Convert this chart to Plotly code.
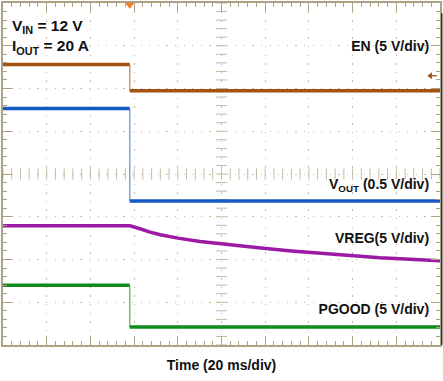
import plotly.graph_objects as go

# Time axis in ms (20 ms/div, 10 div); vertical position in screen divisions (0..8)
t_start, t_edge, t_end = 0, 58, 200
en_levels = [6.56, 5.95]       # before / after edge
vout_levels = [5.53, 3.37]
pgood_levels = [1.40, 0.42]
vreg_t = [0, 58.1, 62.7, 67.3, 72, 80, 90.2, 104, 118, 132, 150, 172.5, 200]
vreg_div = [2.79, 2.79, 2.72, 2.64, 2.58, 2.50, 2.42, 2.34, 2.27, 2.20, 2.12, 2.04, 1.97]
trigger_t = [58]
en_marker_div = 6.30

cond_text = ["V<sub>IN</sub> = 12 V", "I<sub>OUT</sub> = 20 A"]
cond_t = [4.1, 4.1]
cond_div = [7.44, 6.96]
chan_text = ["EN (5 V/div)", "V<sub>OUT</sub> (0.5 V/div)", "VREG(5 V/div)", "PGOOD (5 V/div)"]
chan_t = [195.0, 195.0, 195.0, 195.0]
chan_div = [6.97, 3.72, 2.47, 0.81]

W, H = 443, 381
L, R, T, B = 3, 3, 1, 36
GRID = "#c2bb9f"
FRAME = "#aaa283"
FONT = "Liberation Sans, Arial, sans-serif"

fig = go.Figure()

# center cross minor ticks
cx = [i * 4 for i in range(51)]
fig.add_trace(go.Scatter(x=cx, y=[4] * len(cx), mode="markers",
                         marker=dict(symbol="line-ns", size=8, line=dict(color=GRID, width=1)),
                         hoverinfo="skip", showlegend=False))
cy = [i * 0.2 for i in range(41)]
fig.add_trace(go.Scatter(x=[100] * len(cy), y=cy, mode="markers",
                         marker=dict(symbol="line-ew", size=8, line=dict(color=GRID, width=1)),
                         hoverinfo="skip", showlegend=False))


def add_step(levels, color, edge_color):
    hi, lo = levels
    fig.add_trace(go.Scatter(x=[t_edge, t_edge], y=[hi, lo], mode="lines",
                             line=dict(color=edge_color, width=1.5),
                             hoverinfo="skip", showlegend=False))
    fig.add_trace(go.Scatter(x=[t_start, t_edge, None, t_edge, t_end], y=[hi, hi, None, lo, lo],
                             mode="lines", line=dict(color=color, width=3.5),
                             hoverinfo="skip", showlegend=False))


add_step(en_levels, "#a2530f", "#c89a70")
add_step(vout_levels, "#1559c4", "#7fa3dc")
fig.add_trace(go.Scatter(x=vreg_t, y=vreg_div, mode="lines", line=dict(color="#9c1aa6", width=3.5),
                         hoverinfo="skip", showlegend=False))
add_step(pgood_levels, "#118a1c", "#6cbf72")

# trigger marker
fig.add_trace(go.Scatter(x=trigger_t, y=[7.97], mode="markers", cliponaxis=False,
                         marker=dict(symbol="triangle-down", size=9, color="#f57c22"),
                         hoverinfo="skip", showlegend=False))

# EN level marker (arrow)
fig.add_trace(go.Scatter(x=[195.2, 198.5], y=[en_marker_div, en_marker_div], mode="lines",
                         line=dict(color="#a2530f", width=1.3), hoverinfo="skip", showlegend=False))
fig.add_trace(go.Scatter(x=[195.6], y=[en_marker_div], mode="markers",
                         marker=dict(symbol="triangle-left", size=6, color="#a2530f"),
                         hoverinfo="skip", showlegend=False))

# labels
fig.add_trace(go.Scatter(x=cond_t, y=cond_div, text=cond_text, mode="text",
                         textposition="middle right", cliponaxis=False,
                         textfont=dict(family=FONT, size=15.5, color="#111", weight="bold"),
                         hoverinfo="skip", showlegend=False))
fig.add_trace(go.Scatter(x=chan_t, y=chan_div, text=chan_text, mode="text",
                         textposition="middle left", cliponaxis=False,
                         textfont=dict(family=FONT, size=14, color="#111", weight="bold"),
                         hoverinfo="skip", showlegend=False))

fig.update_xaxes(range=[0, 200], dtick=20, tick0=0, showticklabels=False,
                 ticks="inside", ticklen=9, tickcolor=FRAME, tickwidth=1,
                 minor=dict(dtick=4, ticks="inside", ticklen=4, tickcolor=FRAME, showgrid=False),
                 showgrid=True, gridcolor=GRID, gridwidth=1.3, griddash="1.3px,7.3px",
                 showline=True, linecolor=FRAME, linewidth=2, mirror="ticks", zeroline=False,
                 title=dict(text="Time (20 ms/div)",
                            font=dict(family=FONT, size=14, color="#111", weight="bold"),
                            standoff=14))
fig.update_yaxes(range=[0, 8], dtick=1, tick0=0, showticklabels=False,
                 ticks="inside", ticklen=9, tickcolor=FRAME, tickwidth=1,
                 minor=dict(dtick=0.2, ticks="inside", ticklen=4, tickcolor=FRAME, showgrid=False),
                 showgrid=True, gridcolor=GRID, gridwidth=1.3, griddash="1.3px,7.3px",
                 showline=True, linecolor=FRAME, linewidth=2, mirror="ticks", zeroline=False)

# right screenshot edge
fig.add_shape(type="line", xref="paper", yref="paper", x0=1.004, x1=1.004, y0=0, y1=0.97,
              line=dict(color="#333", width=1.5))

fig.update_layout(width=W, height=H, margin=dict(l=L, r=R, t=T, b=B),
                  paper_bgcolor="white", plot_bgcolor="white")

fig.write_html("out.html", config={"displayModeBar": False},
               post_script="document.body.style.margin='0';document.body.style.padding='0';")
